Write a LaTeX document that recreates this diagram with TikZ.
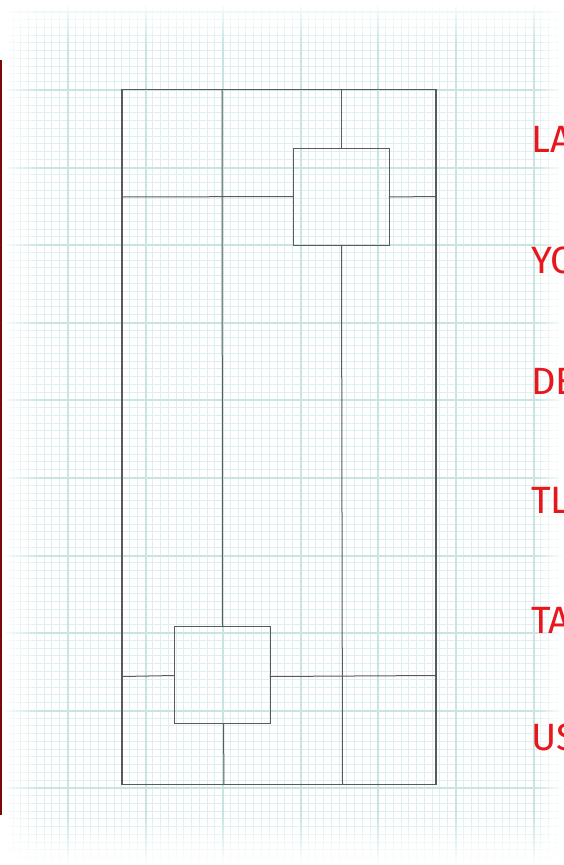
\documentclass[tikz,border=0pt]{standalone}
\usepackage{fontspec}
\newfontfamily\handfont{Fira Sans}
\usetikzlibrary{fadings}
\definecolor{gridminor}{HTML}{DDEFEF}
\definecolor{gridmajor}{HTML}{C8E5E4}
\definecolor{sketch}{HTML}{5A5A5A}
\definecolor{redtext}{HTML}{E8171D}
\definecolor{marginred}{HTML}{7A0A0A}
\tikzfading[name=fadeL, left color=transparent!0, right color=transparent!100]
\tikzfading[name=fadeR, left color=transparent!100, right color=transparent!0]
\tikzfading[name=fadeT, top color=transparent!0, bottom color=transparent!100]
\tikzfading[name=fadeB, top color=transparent!100, bottom color=transparent!0]
\tikzset{
  minorgrid/.style={draw=gridminor, line width=1pt},
  majorgrid/.style={draw=gridmajor, line width=2pt},
  wire/.style={draw=sketch, line width=1pt, line cap=round},
  label/.style={text=redtext, font=\handfont\fontsize{38}{38}\selectfont, anchor=west, inner sep=0pt}
}
\begin{document}
\begin{tikzpicture}[x=1pt, y=-1pt]
\useasboundingbox (0,0) rectangle (563,865);
\fill[white] (0,0) rectangle (563,865);
% grid
\begin{scope}
\clip (6,6) rectangle (563,864);
\foreach \i in {0,...,75} {
  \pgfmathsetmacro{\gx}{round(-10.6+7.76*\i)+0.5}
  \draw[minorgrid] (\gx,0) -- (\gx,865);
}
\foreach \i in {0,...,112} {
  \pgfmathsetmacro{\gy}{round(11.4+7.76*\i)+0.5}
  \draw[minorgrid] (0,\gy) -- (563,\gy);
}
\foreach \i in {0,...,8} {
  \pgfmathsetmacro{\gx}{round(-10.6+77.6*\i)+1}
  \draw[majorgrid] (\gx,0) -- (\gx,865);
}
\foreach \i in {0,...,11} {
  \pgfmathsetmacro{\gy}{round(11.4+77.6*\i)+1}
  \draw[majorgrid] (0,\gy) -- (563,\gy);
}
\end{scope}
% edge fades
\fill[white, path fading=fadeL] (0,0) rectangle (40,865);
\fill[white, path fading=fadeT] (0,0) rectangle (563,45);
\fill[white, path fading=fadeB] (0,815) rectangle (563,865);
\fill[white, path fading=fadeR] (535,0) rectangle (563,865);
% left margin line
\draw[marginred, line width=2.2pt] (1,60) -- (1,815);
% wireframe
\coordinate (tl) at (122,89.5);
\coordinate (br) at (436,784.5);
\draw[wire, line width=1.3pt] (tl) rectangle (br);
% vertical column lines
\draw[wire] (222,89.5) -- (222.5,626.5);
\draw[wire] (223.5,723.5) -- (224,784.5);
\draw[wire] (341,89.5) -- (341,148.5);
\draw[wire] (341.5,245) -- (342.5,784.5);
% horizontal lines
\draw[wire] (122,197) -- (293.5,196.5);
\draw[wire] (389,197) -- (436,196.5);
\draw[wire] (122,676.5) -- (174.5,675.5);
\draw[wire] (270,676.5) -- (436,675.5);
% boxes
\draw[wire] (293.5,148.5) rectangle (389,245);
\draw[wire] (174.5,626.5) rectangle (270,723.5);
% labels (cut off by the right edge, as in the original)
\node[label] (l1) at (531,139) {LA};
\node[label] (l2) at (531,260) {YO};
\node[label] (l3) at (531,381) {DE};
\node[label] (l4) at (531,500) {TL};
\node[label] (l5) at (531,620) {TA};
\node[label] (l6) at (531,737) {US};
\end{tikzpicture}
\end{document}
